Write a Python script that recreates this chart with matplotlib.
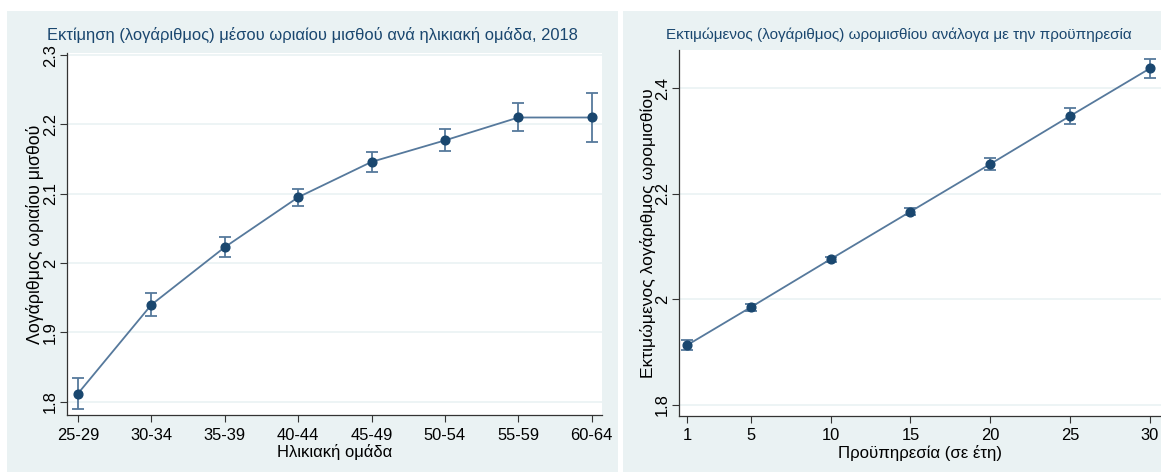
import matplotlib
matplotlib.use('Agg')
import matplotlib.pyplot as plt
from matplotlib.patches import Rectangle

# Left panel: estimated log hourly wage by age group, 2018
age_groups = ['25-29', '30-34', '35-39', '40-44', '45-49', '50-54', '55-59', '60-64']
age_est = [1.812, 1.940, 2.023, 2.095, 2.146, 2.177, 2.210, 2.210]
age_lo = [1.790, 1.924, 2.009, 2.083, 2.132, 2.161, 2.190, 2.175]
age_hi = [1.834, 1.957, 2.037, 2.107, 2.160, 2.193, 2.231, 2.246]

# Right panel: predicted log hourly wage by years of service
years = [1, 5, 10, 15, 20, 25, 30]
yrs_est = [1.913, 1.985, 2.076, 2.166, 2.256, 2.347, 2.437]
yrs_lo = [1.904, 1.978, 2.071, 2.160, 2.245, 2.332, 2.419]
yrs_hi = [1.922, 1.992, 2.081, 2.172, 2.267, 2.362, 2.455]

W, H = 1161, 474
BG = '#eaf2f3'
NAVY = '#1a476f'
LINE = '#56799c'
AX = '#333333'

plt.rcParams['font.family'] = ['Liberation Sans', 'DejaVu Sans']
fig = plt.figure(figsize=(W / 100, H / 100), dpi=100)


def box(x0, y0, x1, y1):
    # pixel coords with origin top-left -> figure fraction
    return [x0 / W, 1 - y1 / H, (x1 - x0) / W, (y1 - y0) / H]


for x0, x1 in [(7, 618), (623, 1161)]:
    b = box(x0, 11, x1, 472)
    fig.patches.append(Rectangle((b[0], b[1]), b[2], b[3], transform=fig.transFigure,
                                 facecolor=BG, edgecolor='none', zorder=-10))


def style(ax, fs):
    ax.set_facecolor('white')
    for s in ['top', 'right']:
        ax.spines[s].set_visible(False)
    for s in ['left', 'bottom']:
        ax.spines[s].set_color(AX)
        ax.spines[s].set_linewidth(0.9)
    ax.tick_params(direction='out', length=5, width=0.8, color=AX, labelsize=fs, pad=4)
    ax.tick_params(axis='y', pad=1.5)
    ax.yaxis.grid(True, color=BG, lw=1.2)
    ax.set_axisbelow(True)
    for lab in ax.get_yticklabels():
        lab.set_rotation(90)
        lab.set_va('center')


def draw(ax, x, est, lo, hi):
    yerr = [[e - l for e, l in zip(est, lo)], [h - e for e, h in zip(est, hi)]]
    ax.errorbar(x, est, yerr=yerr, fmt='-o', color=LINE, lw=1.3, elinewidth=1.3,
                capsize=4.5, capthick=1.3, ms=6.3, mfc=NAVY, mec=NAVY, zorder=3)


# left
fs1 = 11.9
ax1 = fig.add_axes(box(67, 53, 602, 415))
draw(ax1, range(len(age_groups)), age_est, age_lo, age_hi)
ax1.set_xlim(-0.15, 7.14)
ax1.set_ylim(1.781, 2.303)
ax1.set_xticks(range(len(age_groups)))
ax1.set_xticklabels(age_groups)
ax1.set_yticks([1.8, 1.9, 2.0, 2.1, 2.2, 2.3])
ax1.set_yticklabels(['1.8', '1.9', '2', '2.1', '2.2', '2.3'])
ax1.set_xlabel('Ηλικιακή ομάδα', fontsize=fs1, labelpad=1)
ax1.set_ylabel('Λογάριθμος ωριαίου μισθού', fontsize=12.8, labelpad=-1)
style(ax1, fs1)
fig.text(312 / W, 1 - 35 / H, 'Εκτίμηση (λογάριθμος) μέσου ωριαίου μισθού ανά ηλικιακή ομάδα, 2018',
         ha='center', va='center', color=NAVY, fontsize=fs1)

# right
fs2 = 11.9
ax2 = fig.add_axes(box(679, 50, 1161, 416))
draw(ax2, years, yrs_est, yrs_lo, yrs_hi)
ax2.set_xlim(0.5, 30.7)
ax2.set_ylim(1.779, 2.472)
ax2.set_xticks(years)
ax2.set_yticks([1.8, 2.0, 2.2, 2.4])
ax2.set_yticklabels(['1.8', '2', '2.2', '2.4'])
ax2.set_xlabel('Προϋπηρεσία (σε έτη)', fontsize=12.1, labelpad=1)
ax2.set_ylabel('Εκτιμώμενος λογάριθμος ωρομισθίου', fontsize=12.6, labelpad=-1)
style(ax2, fs2)
fig.text(899 / W, 1 - 35 / H, 'Εκτιμώμενος (λογάριθμος) ωρομισθίου ανάλογα με την προϋπηρεσία',
         ha='center', va='center', color=NAVY, fontsize=11.0)

fig.savefig('out.png', dpi=100)
